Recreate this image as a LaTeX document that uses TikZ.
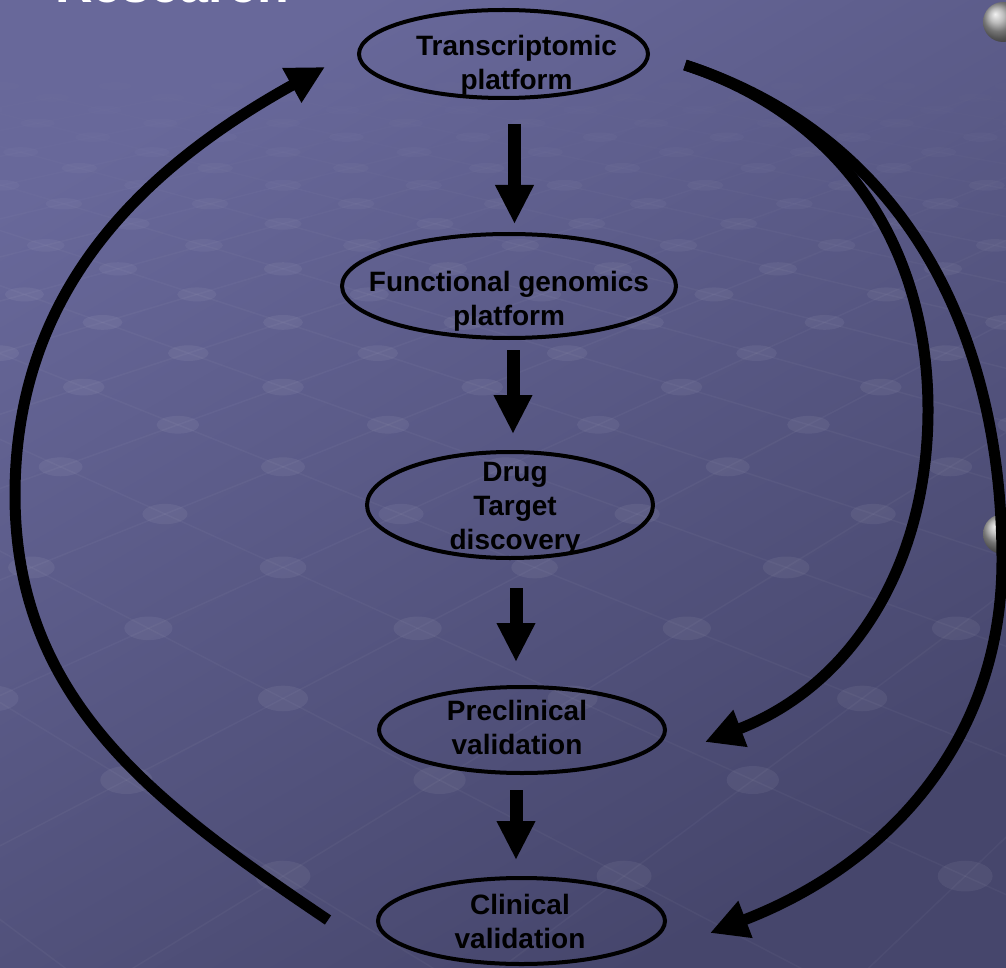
\documentclass[tikz,border=0pt]{standalone}
\usepackage{fontspec}
\setmainfont{Liberation Sans}
\usepackage{tikz}
\usetikzlibrary{arrows.meta,shapes,positioning}
\definecolor{slidetop}{RGB}{104,104,154}
\definecolor{slidebottom}{RGB}{70,70,108}
\tikzset{
  stage/.style={draw, ellipse, line width=4pt, inner sep=0pt, outer sep=0pt},
  stagetext/.style={align=center, inner sep=0pt, font=\bfseries\fontsize{28}{34}\selectfont},
  downflow/.style={-{Triangle[length=39pt, width=36pt]}, line width=13pt},
  backflow/.style={-{Triangle[length=38pt, width=37pt]}, line width=11pt}
}
\begin{document}
\begin{tikzpicture}[x=1pt, y=1pt]
        % Slide background with the floor of dots
        \useasboundingbox (0,0) rectangle (1006,-968);
        \shade[top color=slidetop, bottom color=slidebottom, shading angle=30] (0,0) rectangle (1006,-968);
        \begin{scope}
          \clip (0,0) rectangle (1006,-968);
          \foreach \p in {-10,...,30}{
            \foreach \q in {-8,...,18}{
              \pgfmathtruncatemacro{\odd}{mod(\p+\q+100,2)}
              \ifnum\odd=0
                \pgfmathsetmacro{\za}{2.79+0.145*\p}
                \pgfmathsetmacro{\zb}{2.79+0.145*(\p+1)}
                \pgfmathsetmacro{\xa}{283+1917*0.145*\q/\za}
                \pgfmathsetmacro{\pa}{1917/\za-300}
                \pgfmathsetmacro{\ya}{300-1917/\za}
                \pgfmathsetmacro{\xb}{283+1917*0.145*(\q+1)/\zb}
                \pgfmathsetmacro{\xc}{283+1917*0.145*(\q-1)/\zb}
                \pgfmathsetmacro{\yb}{300-1917/\zb}
                \pgfmathsetmacro{\op}{min(1,max(0,(\pa-60)/250))}
                \draw[white, line width=1.5pt, opacity=0.035*\op] (\xc,\yb) -- (\xa,\ya) -- (\xb,\yb);
                \fill[white, opacity=0.06*\op] (\xa,\ya) ellipse ({15.6+0.0135*\pa} and {2.75+0.0144*\pa});
              \fi
            }
          }
        \end{scope}
        \node[anchor=base west, inner sep=0pt, text=white, font=\bfseries\fontsize{52}{60}\selectfont] (heading) at (55,-3) {Research};
        \shade[ball color=gray!70] (1003,-22) circle (20);
        \shade[ball color=gray!70] (1003,-534) circle (20);

        % Stages of the pipeline
        \node[stage, minimum width=289pt, minimum height=88pt] (trans) at (503.5,-54) {};
        \node[stage, minimum width=334pt, minimum height=104pt] (func) at (509,-286) {};
        \node[stage, minimum width=286pt, minimum height=106pt] (drug) at (510,-505) {};
        \node[stage, minimum width=286pt, minimum height=86pt] (precl) at (522,-730) {};
        \node[stage, minimum width=287pt, minimum height=86pt] (clin) at (521.5,-921) {};

        \node[stagetext] (transtext) at (516.5,-65.3) {Transcriptomic\\platform};
        \node[stagetext] (functext) at (509,-301.3) {Functional genomics\\platform};
        \node[stagetext] (drugtext) at (515,-508.8) {Drug\\Target\\discovery};
        \node[stagetext] (precltext) at (517,-727.5) {Preclinical\\validation};
        \node[stagetext] (clintext) at (520,-921.5) {Clinical\\validation};

        % Forward steps
        \draw[downflow, shorten <=26pt, shorten >=10pt] ([xshift=11pt]trans.south) -- ([xshift=5.5pt]func.north);
        \draw[downflow, shorten <=12pt, shorten >=18pt] ([xshift=4pt]func.south) -- ([xshift=3pt]drug.north);
        \draw[downflow, shorten <=30pt, shorten >=25pt] ([xshift=6pt]drug.south) -- ([xshift=-6pt]precl.north);
        \draw[downflow, shorten <=17pt, shorten >=18pt] ([xshift=-6pt]precl.south) -- ([xshift=-5.5pt]clin.north);

        % Feedback loops
        \coordinate (leftmost) at (15,-495);
        \coordinate (innerbend) at (928,-410);
        \coordinate (outerbend) at (1002,-560);
        \draw[backflow] ([shift={(-50,1)}]clin.west) to[out=146, in=-90] (leftmost) to[out=90, in=209] ([shift={(-34,-13)}]trans.west);
        \draw[backflow] ([shift={(37,-11)}]trans.east) to[out=-18, in=90] (innerbend) to[out=-90, in=21] ([shift={(40,-12)}]precl.east);
        \draw[backflow] ([shift={(37,-11)}]trans.east) to[out=-18, in=90] (outerbend) to[out=-90, in=21] ([shift={(45,-12)}]clin.east);
\end{tikzpicture}
\end{document}
